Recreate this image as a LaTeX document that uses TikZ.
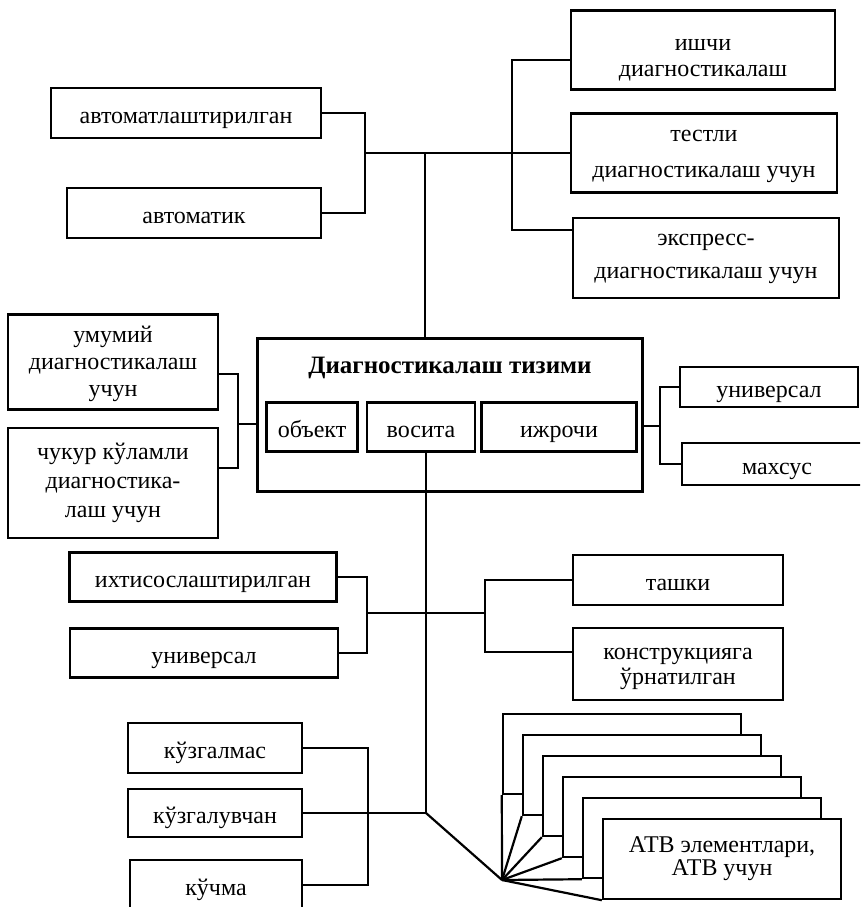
\documentclass[tikz,border=0pt]{standalone}
\usepackage{fontspec}
\setmainfont{Liberation Serif}
\usetikzlibrary{
  chains,
  positioning,
  scopes
}
\newcommand{\topgap}[1]{\rule{0pt}{#1pt}}

\begin{document}
\begin{tikzpicture}[
      x=1pt, y=-1pt,
      box/.style={
         rectangle,
         draw=black,
         line width=2.4pt,
         fill=white,
         inner sep=0pt,
         align=center,
         font=\fontsize{24}{28}\selectfont
      },
      single/.style={
         box,
         execute at begin node={\rule[-6pt]{0pt}{32pt}},
         execute at end node={\rule[-6pt]{0pt}{6pt}}
      },
      headline/.style={
         font=\bfseries\fontsize{25}{30}\selectfont
      },
      point/.style={coordinate},line width=2.2pt,
      hv path/.style={to path={-| (\tikztotarget)}},
      vh path/.style={to path={|- (\tikztotarget)}}
    ]
    \useasboundingbox (0,0) rectangle (860,907);
    \clip (0,0) rectangle (860,907);
    % upper part
    \node (n1) [box, minimum width=264pt, minimum height=79pt, font=\fontsize{24}{26}\selectfont] at (703,50) {\topgap{31}ишчи\\диагностикалаш};
    \node (n2) [box, minimum width=266pt, minimum height=79pt, font=\fontsize{24}{36}\selectfont] at (704,153) {\topgap{18}тестли\\диагностикалаш учун};
    \node (n3) [box, minimum width=266pt, minimum height=80pt, font=\fontsize{24}{33}\selectfont] at (706,258) {\topgap{14}экспресс-\\диагностикалаш учун};
    \node (n4) [single, minimum width=270pt, minimum height=50pt] at (186,113) {автоматлаштирилган};
    \node (n5) [single, minimum width=254pt, minimum height=50pt] at (194,213) {автоматик};
    % middle part
    \node (n6) [box, minimum width=210pt, minimum height=95pt, font=\fontsize{24}{27}\selectfont] at (113,362) {\topgap{21}умумий\\диагностикалаш\\учун};
    \node (n7) [box, minimum width=210pt, minimum height=110pt, font=\fontsize{24}{29}\selectfont] at (113,483) {чукур кўламли\\диагностика-\\лаш учун};
    \node (n8) [box, minimum width=385pt, minimum height=153pt] at (450,415) {};
    \node (n81) [headline] at (450,368) {Диагностикалаш тизими};
    \node (n82) [single, minimum width=91pt, minimum height=49pt] at (312,427) {объект};
    \node (n83) [single, minimum width=108pt, minimum height=49pt] at (421,427) {восита};
    \node (n84) [single, minimum width=155pt, minimum height=49pt] at (559,427) {ижрочи};
    \node (n9) [single, minimum width=178pt, minimum height=40pt] at (769,387) {универсал};
    \node (n10) [single, minimum width=190pt, minimum height=42pt] at (777,464) {махсус};
    % lower part
    \node (n11) [single, minimum width=267pt, minimum height=49pt] at (203,577) {ихтисослаштирилган};
    \node (n12) [single, minimum width=268pt, minimum height=49pt] at (204,653) {универсал};
    \node (n13) [single, minimum width=210pt, minimum height=50pt] at (678,580) {ташки};
    \node (n14) [box, minimum width=210pt, minimum height=72pt, font=\fontsize{24}{25}\selectfont] at (678,664) {\topgap{22}конструкцияга\\ўрнатилган};
    \node (n15) [single, minimum width=174pt, minimum height=50pt] at (215,748) {кўзгалмас};
    \node (n16) [single, minimum width=174pt, minimum height=48pt] at (215,813) {кўзгалувчан};
    \node (n17) [single, minimum width=172pt, minimum height=50pt] at (216,885) {кўчма};
    \foreach \k in {1,...,5}
       \node (a\k) [box, minimum width=238pt, minimum height=80pt] at (602+20*\k, 733+21*\k) {};
    \node (a6) [box, minimum width=238pt, minimum height=80pt, font=\fontsize{24}{23}\selectfont] at (722,859) {АТВ элементлари,\\АТВ учун};

    \node (p1) [point] at (425,153) {};
    \node (p0) [point] at (p1 |- n8.north) {};
    \node (p2) [point] at (365,153) {};
    \node (p3) [point] at (512,153) {};
    \node (p4) [point] at ([yshift=-10pt]n1.west) {};
    \node (p5) [point] at ([yshift=28pt]n3.west) {};
    \node (p6) [point] at (238,424) {};
    \node (p7) [point] at ([yshift=-12pt]n6.east) {};
    \node (p8) [point] at ([yshift=15pt]n7.east) {};
    \node (p9) [point] at (p6 -| n8.west) {};
    \node (p10) [point] at (660,426) {};
    \node (p11) [point] at (p10 -| n8.east) {};
    \node (p12) [point] at (426,613) {};
    \node (p13) [point] at (p12 |- n83.south) {};
    \node (p14) [point] at (426,813) {};
    \node (p15) [point] at (502,880) {};
    \node (p16) [point] at (367,613) {};
    \node (p17) [point] at (485,613) {};
    \node (p18) [point] at ([yshift=12pt]n14.west) {};
    \node (p19) [point] at (368,813) {};

  { [start chain]
       \chainin (n4);
       \chainin (p2)    [join=by hv path];
       \chainin (n5)    [join=by vh path];
  }
  { [start chain]
       \chainin (p2);
       \chainin (n2)    [join];
  }
  { [start chain]
       \chainin (p1);
       \chainin (p0)    [join];
  }
  { [start chain]
       \chainin (p4);
       \chainin (p3)    [join=by hv path];
       \chainin (p5)    [join=by vh path];
  }
  { [start chain]
       \chainin (p7);
       \chainin (p6)    [join=by hv path];
       \chainin (p8)    [join=by vh path];
  }
  { [start chain]
       \chainin (p6);
       \chainin (p9)    [join];
  }
  { [start chain]
       \chainin (n9);
       \chainin (p10)   [join=by hv path];
       \chainin (n10)   [join=by vh path];
  }
  { [start chain]
       \chainin (p11);
       \chainin (p10)   [join];
  }
  { [start chain]
       \chainin (p13);
       \chainin (p12)   [join];
       \chainin (p14)   [join];
       \chainin (p15)   [join];
  }
  { [start chain]
       \chainin (n11);
       \chainin (p16)   [join=by hv path];
       \chainin (n12)   [join=by vh path];
  }
  { [start chain]
       \chainin (p16);
       \chainin (p17)   [join];
  }
  { [start chain]
       \chainin (n13);
       \chainin (p17)   [join=by hv path];
       \chainin (p18)   [join=by vh path];
  }
  { [start chain]
       \chainin (n15);
       \chainin (p19)   [join=by hv path];
       \chainin (n17)   [join=by vh path];
  }
  { [start chain]
       \chainin (n16);
       \chainin (p14)   [join];
  }
  \foreach \k in {1,...,6}
       \draw (p15) -- (a\k.south west);
\end{tikzpicture}
\end{document}
